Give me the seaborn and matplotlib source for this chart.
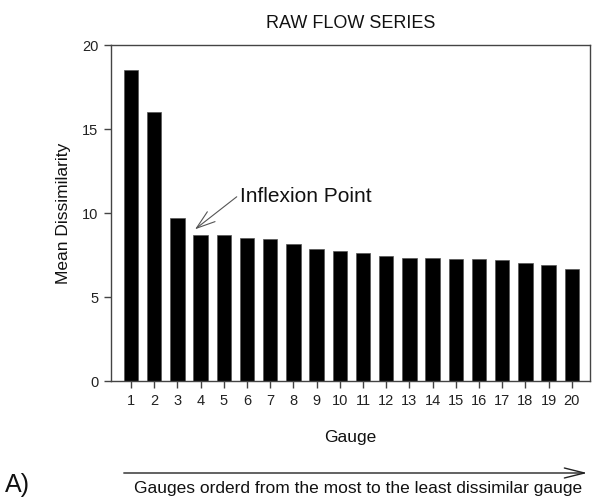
import matplotlib
matplotlib.use("Agg")
import matplotlib.pyplot as plt
import seaborn as sns
import pandas as pd

gauges = [str(i) for i in range(1, 21)]
mean_dissimilarity = [18.5, 16.0, 9.68, 8.7, 8.68, 8.52, 8.48, 8.15, 7.84, 7.72,
                      7.6, 7.45, 7.3, 7.3, 7.25, 7.25, 7.2, 7.0, 6.9, 6.65]
y_ticks = [0, 5, 10, 15, 20]

sns.set_theme(style="ticks")
plt.rcParams['font.family'] = ['Liberation Sans', 'DejaVu Sans']

df = pd.DataFrame({"Gauge": gauges, "Mean Dissimilarity": mean_dissimilarity})

fig = plt.figure(figsize=(5.97, 4.97), dpi=100)
ax = fig.add_axes([0.186, 0.2334, 0.802, 0.676])

sns.barplot(data=df, x="Gauge", y="Mean Dissimilarity", order=gauges,
            color="black", width=0.62, edgecolor="#555555", linewidth=0.5,
            saturation=1, ax=ax)

ax.set_xlim(-0.86, 19.78)
ax.set_ylim(0, 20)
ax.set_yticks(y_ticks)
for s in ax.spines.values():
    s.set_visible(True)
    s.set_color("#444444")
    s.set_linewidth(1.0)
ax.tick_params(axis="both", direction="out", length=5, width=1.0,
               color="#444444", labelsize=10.5, labelcolor="#222222", pad=4)
ax.set_xlabel("Gauge", fontsize=12.5, color="#111111", labelpad=16.5)
ax.set_ylabel("Mean Dissimilarity", fontsize=12.5, color="#111111", labelpad=8)
ax.set_title("RAW FLOW SERIES", fontsize=13, color="#111111", pad=12)

ax.annotate("Inflexion Point", xy=(2.76, 9.03), xytext=(4.7, 10.67),
            fontsize=15, color="#111111", va="baseline", ha="left",
            arrowprops=dict(arrowstyle="->,head_length=0.9,head_width=0.3",
                            color="#555555", lw=0.8,
                            shrinkA=0, shrinkB=0,
                            relpos=(-0.02, 0.5)))

# bottom arrow and caption
fig.add_artist(matplotlib.patches.FancyArrowPatch(
    (121 / 597, 1 - 473 / 497), (590 / 597, 1 - 473 / 497),
    transform=fig.transFigure, arrowstyle="->,head_length=1.2,head_width=0.3",
    mutation_scale=12, color="#222222", lw=1.0))
fig.text(358 / 597, 1 - 488.5 / 497, "Gauges orderd from the most to the least dissimilar gauge",
         ha="center", va="center", fontsize=12.5, color="#111111")
fig.text(5 / 597, 1 - 485 / 497, "A)", ha="left", va="center", fontsize=18, color="#111111")

fig.savefig("out.png", dpi=100)
